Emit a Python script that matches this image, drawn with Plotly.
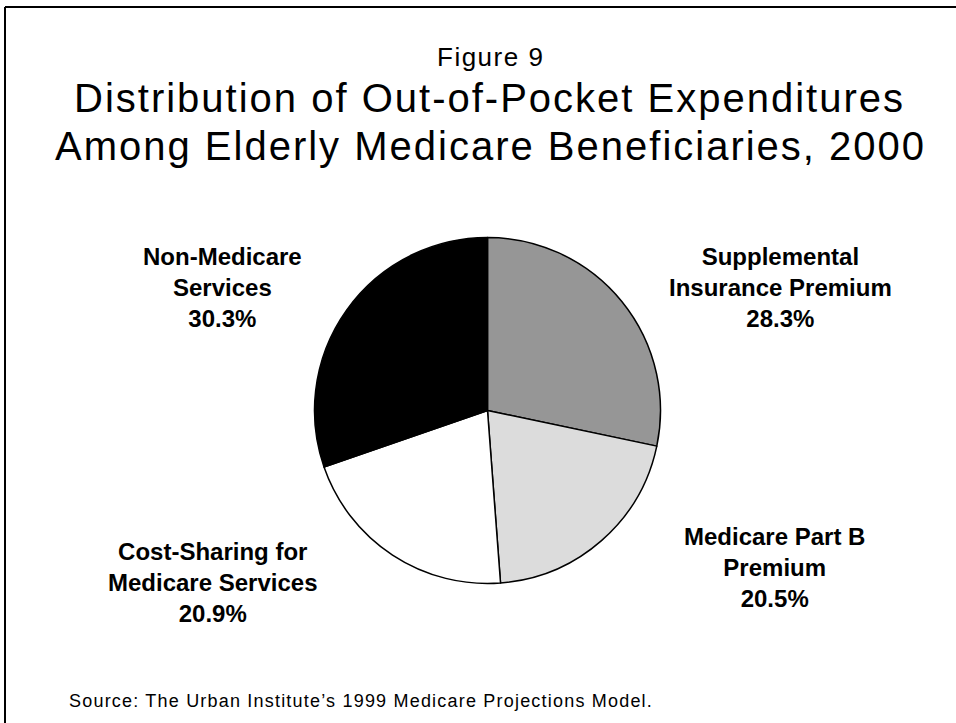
import plotly.graph_objects as go

categories = ["Supplemental Insurance Premium", "Medicare Part B Premium",
              "Cost-Sharing for Medicare Services", "Non-Medicare Services"]
values = [28.3, 20.5, 20.9, 30.3]
label_texts = ["Supplemental<br>Insurance Premium<br>28.3%",
               "Medicare Part B<br>Premium<br>20.5%",
               "Cost-Sharing for<br>Medicare Services<br>20.9%",
               "Non-Medicare<br>Services<br>30.3%"]
colors = ["#969696", "#dcdcdc", "#ffffff", "#000000"]
figure_label = "Figure 9"
title_lines = ["Distribution of Out-of-Pocket Expenditures",
               "Among Elderly Medicare Beneficiaries, 2000"]
source_text = "Source: The Urban Institute\u2019s 1999 Medicare Projections Model."

W, H = 956, 723
cx, cy, r = 487.5, 410.5, 173

fig = go.Figure(go.Pie(
    labels=categories, values=values, sort=False, direction="clockwise", rotation=0,
    marker=dict(colors=colors, line=dict(color="black", width=1.5)),
    textinfo="none", hoverinfo="label+percent", showlegend=False,
    domain=dict(x=[(cx - r) / W, (cx + r) / W], y=[1 - (cy + r) / H, 1 - (cy - r) / H]),
))

font = "Liberation Sans, Arial, sans-serif"


def ann(x, y, text, size, xanchor="center", bold=False, spacing=None):
    if spacing is not None:
        text = f'<span style="letter-spacing:{spacing}px">{text}</span>'
    if bold:
        text = f"<b>{text}</b>"
    fig.add_annotation(x=x / W, y=1 - y / H, xref="paper", yref="paper", text=text,
                       showarrow=False, font=dict(family=font, size=size, color="black"),
                       xanchor=xanchor, yanchor="middle", align="center")


label_pos = [(780, 288), (774, 567), (212, 582), (222, 288)]
for txt, (x, y) in zip(label_texts, label_pos):
    ann(x, y, txt, 24, bold=True)

ann(491, 57, figure_label, 26, spacing=1.5)
ann(489, 98, title_lines[0], 40, spacing=2)
ann(490, 146, title_lines[1], 40, spacing=2)
ann(67, 701, source_text, 18, xanchor="left", spacing=1.2)

# frame: top and left edges only (the rest falls outside the picture)
fig.add_shape(type="line", xref="paper", yref="paper", x0=5 / W, x1=1.0, y0=1 - 7 / H, y1=1 - 7 / H,
              line=dict(color="black", width=2))
fig.add_shape(type="line", xref="paper", yref="paper", x0=5 / W, x1=5 / W, y0=0, y1=1 - 7 / H,
              line=dict(color="black", width=2))

fig.update_layout(width=W, height=H, margin=dict(l=0, r=0, t=0, b=0),
                  paper_bgcolor="white", plot_bgcolor="white")
fig.write_html("out.html", config={"displayModeBar": False},
               post_script="document.body.style.margin='0';document.body.style.overflow='hidden';")
